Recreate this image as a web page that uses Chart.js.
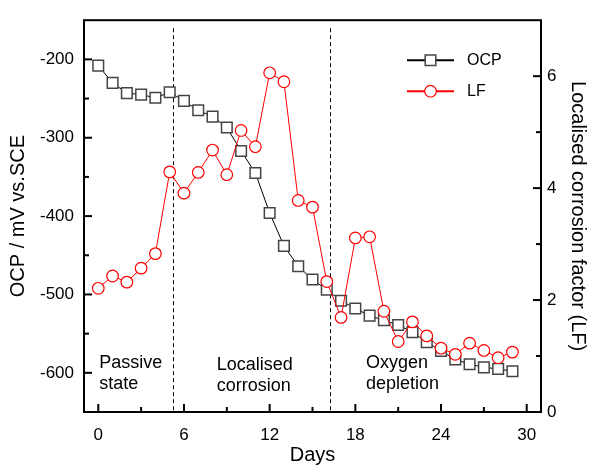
<!DOCTYPE html>
<html>
<head>
<meta charset="utf-8">
<script src="https://cdn.jsdelivr.net/npm/chart.js@4.4.1/dist/chart.umd.min.js"></script>
<style>
  html, body { margin: 0; padding: 0; background: #fff; }
</style>
</head>
<body>
<canvas id="myChart" width="589" height="467"></canvas>
<script>
// data
const days = [0, 1, 2, 3, 4, 5, 6, 7, 8, 9, 10, 11, 12, 13, 14, 15, 16, 17, 18, 19, 20, 21, 22, 23, 24, 25, 26, 27, 28, 29];
const ocp = [-208, -230, -243, -245, -249, -242, -253, -265, -273, -287, -317, -345, -396, -438, -464, -481, -494, -508, -518, -527, -533, -539, -548, -561, -572, -583, -589, -593, -595, -598];
const lf = [2.21, 2.43, 2.32, 2.57, 2.83, 4.29, 3.91, 4.28, 4.68, 4.24, 5.03, 4.74, 6.06, 5.9, 3.78, 3.66, 2.33, 1.69, 3.11, 3.13, 1.8, 1.26, 1.61, 1.36, 1.14, 1.03, 1.23, 1.1, 0.97, 1.07];

const dayTicks = [0, 6, 12, 18, 24, 30];
const dayMinorTicks = [3, 9, 15, 21, 27];
const ocpTicks = [-600, -500, -400, -300, -200];
const ocpMinorTicks = [-550, -450, -350, -250];
const lfTicks = [0, 2, 4, 6];
const lfMinorTicks = [1, 3, 5];

const stageBounds = [5.25, 16.25];
const stageLabels = [["Passive", "state"], ["Localised", "corrosion"], ["Oxygen", "depletion"]];

const FONT = "Arial, 'Liberation Sans', sans-serif";

const ctx = document.getElementById("myChart").getContext("2d");

const setTicks = (list) => (scale) => {
  scale.ticks = list.map((v) => ({ value: v }));
};

const decor = {
  id: "decor",
  beforeDatasetsDraw(chart) {
    const { ctx, chartArea: { top, bottom }, scales: { x } } = chart;
    ctx.save();
    ctx.strokeStyle = "#000";
    ctx.lineWidth = 1;
    ctx.setLineDash([4, 3]);
    stageBounds.forEach((d) => {
      const px = Math.round(x.getPixelForValue(d)) + 0.5;
      ctx.beginPath();
      ctx.moveTo(px, top + 8);
      ctx.lineTo(px, bottom);
      ctx.stroke();
    });
    ctx.restore();
  },
  afterDatasetsDraw(chart) {
    const { ctx, chartArea: { left, right, top, bottom }, scales: { x, y, y1 } } = chart;
    ctx.save();

    // stage notes
    ctx.fillStyle = "#000";
    ctx.font = "18px " + FONT;
    ctx.textAlign = "left";
    ctx.textBaseline = "alphabetic";
    const noteX = [x.getPixelForValue(0) + 1, x.getPixelForValue(8.3), x.getPixelForValue(18.75)];
    const noteY = [368, 370, 368];
    stageLabels.forEach((lines, i) => {
      lines.forEach((t, k) => ctx.fillText(t, noteX[i], noteY[i] + k * 21));
    });

    // frame
    ctx.strokeStyle = "#000";
    ctx.lineWidth = 2;
    ctx.strokeRect(left, top, right - left, bottom - top);

    // inward ticks
    const tick = (x0, y0, x1, y1p) => {
      ctx.beginPath();
      ctx.moveTo(x0, y0);
      ctx.lineTo(x1, y1p);
      ctx.stroke();
    };
    ctx.lineWidth = 2;
    dayTicks.forEach((v) => { const p = x.getPixelForValue(v); tick(p, bottom, p, bottom - 8); });
    dayMinorTicks.forEach((v) => { const p = x.getPixelForValue(v); tick(p, bottom, p, bottom - 5); });
    ocpTicks.forEach((v) => { const p = y.getPixelForValue(v); tick(left, p, left + 8, p); });
    ocpMinorTicks.forEach((v) => { const p = y.getPixelForValue(v); tick(left, p, left + 5, p); });
    lfTicks.forEach((v) => { const p = y1.getPixelForValue(v); tick(right, p, right - 8, p); });
    lfMinorTicks.forEach((v) => { const p = y1.getPixelForValue(v); tick(right, p, right - 5, p); });

    // legend
    const legendRows = [top + 40, top + 71];
    const x0 = right - 134, x1 = right - 87, xm = (x0 + x1) / 2;
    chart.data.datasets.forEach((ds, i) => {
      const ly = legendRows[i];
      ctx.strokeStyle = ds.borderColor;
      ctx.lineWidth = 2;
      tick(x0, ly, x1, ly);
      ctx.fillStyle = ds.pointBackgroundColor;
      ctx.strokeStyle = ds.pointBorderColor;
      ctx.lineWidth = ds.pointBorderWidth;
      Chart.helpers.drawPoint(ctx, { pointStyle: ds.pointStyle, radius: ds.pointRadius, borderWidth: ds.pointBorderWidth }, xm, ly);
      ctx.fillStyle = "#000";
      ctx.font = "16px " + FONT;
      ctx.textBaseline = "middle";
      ctx.fillText(ds.label, right - 74, ly);
    });

    ctx.restore();
  },
};

new Chart(ctx, {
  type: "line",
  data: {
    datasets: [
      {
        label: "OCP",
        data: days.map((d, i) => ({ x: d, y: ocp[i] })),
        yAxisID: "y",
        borderColor: "#000",
        borderWidth: 1,
        pointStyle: "rect",
        pointRadius: 7.5,
        pointBorderColor: "#444",
        pointBackgroundColor: "#fff",
        pointBorderWidth: 1.5,
        order: 2,
      },
      {
        label: "LF",
        data: days.map((d, i) => ({ x: d, y: lf[i] })),
        yAxisID: "y1",
        borderColor: "#ff0000",
        borderWidth: 1,
        pointStyle: "circle",
        pointRadius: 5.8,
        pointBorderColor: "#ff0000",
        pointBackgroundColor: "#fff",
        pointBorderWidth: 1.2,
        order: 1,
      },
    ],
  },
  options: {
    responsive: false,
    animation: false,
    layout: { padding: { top: 10 } },
    plugins: {
      legend: { display: false },
      tooltip: { enabled: false },
    },
    scales: {
      x: {
        type: "linear",
        min: -1,
        max: 31,
        afterBuildTicks: setTicks(dayTicks),
        afterFit: (s) => { s.height = 55; },
        grid: { display: false, drawTicks: false },
        border: { display: false },
        ticks: { color: "#000", font: { family: FONT, size: 17 }, padding: 13, maxRotation: 0, autoSkip: false },
        title: { display: true, text: "Days", color: "#000", font: { family: FONT, size: 20 }, padding: { top: 0, bottom: 0 } },
      },
      y: {
        position: "left",
        min: -650,
        max: -150,
        afterBuildTicks: setTicks(ocpTicks),
        afterFit: (s) => { s.width = 84; },
        grid: { display: false, drawTicks: false },
        border: { display: false },
        ticks: { color: "#000", font: { family: FONT, size: 17 }, padding: 10, autoSkip: false },
        title: { display: true, text: "OCP / mV vs.SCE", color: "#000", font: { family: FONT, size: 20 }, padding: { top: 6, bottom: 0 } },
      },
      y1: {
        position: "right",
        min: 0,
        max: 7,
        afterBuildTicks: setTicks(lfTicks),
        afterFit: (s) => { s.width = 48; },
        grid: { display: false, drawTicks: false },
        border: { display: false },
        ticks: { color: "#000", font: { family: FONT, size: 17 }, padding: 6, autoSkip: false },
        title: { display: true, text: "Localised corrosion factor (LF)", color: "#000", font: { family: FONT, size: 20, lineHeight: 1 }, padding: { top: 1, bottom: 0 } },
      },
    },
  },
  plugins: [decor],
});
</script>
</body>
</html>
